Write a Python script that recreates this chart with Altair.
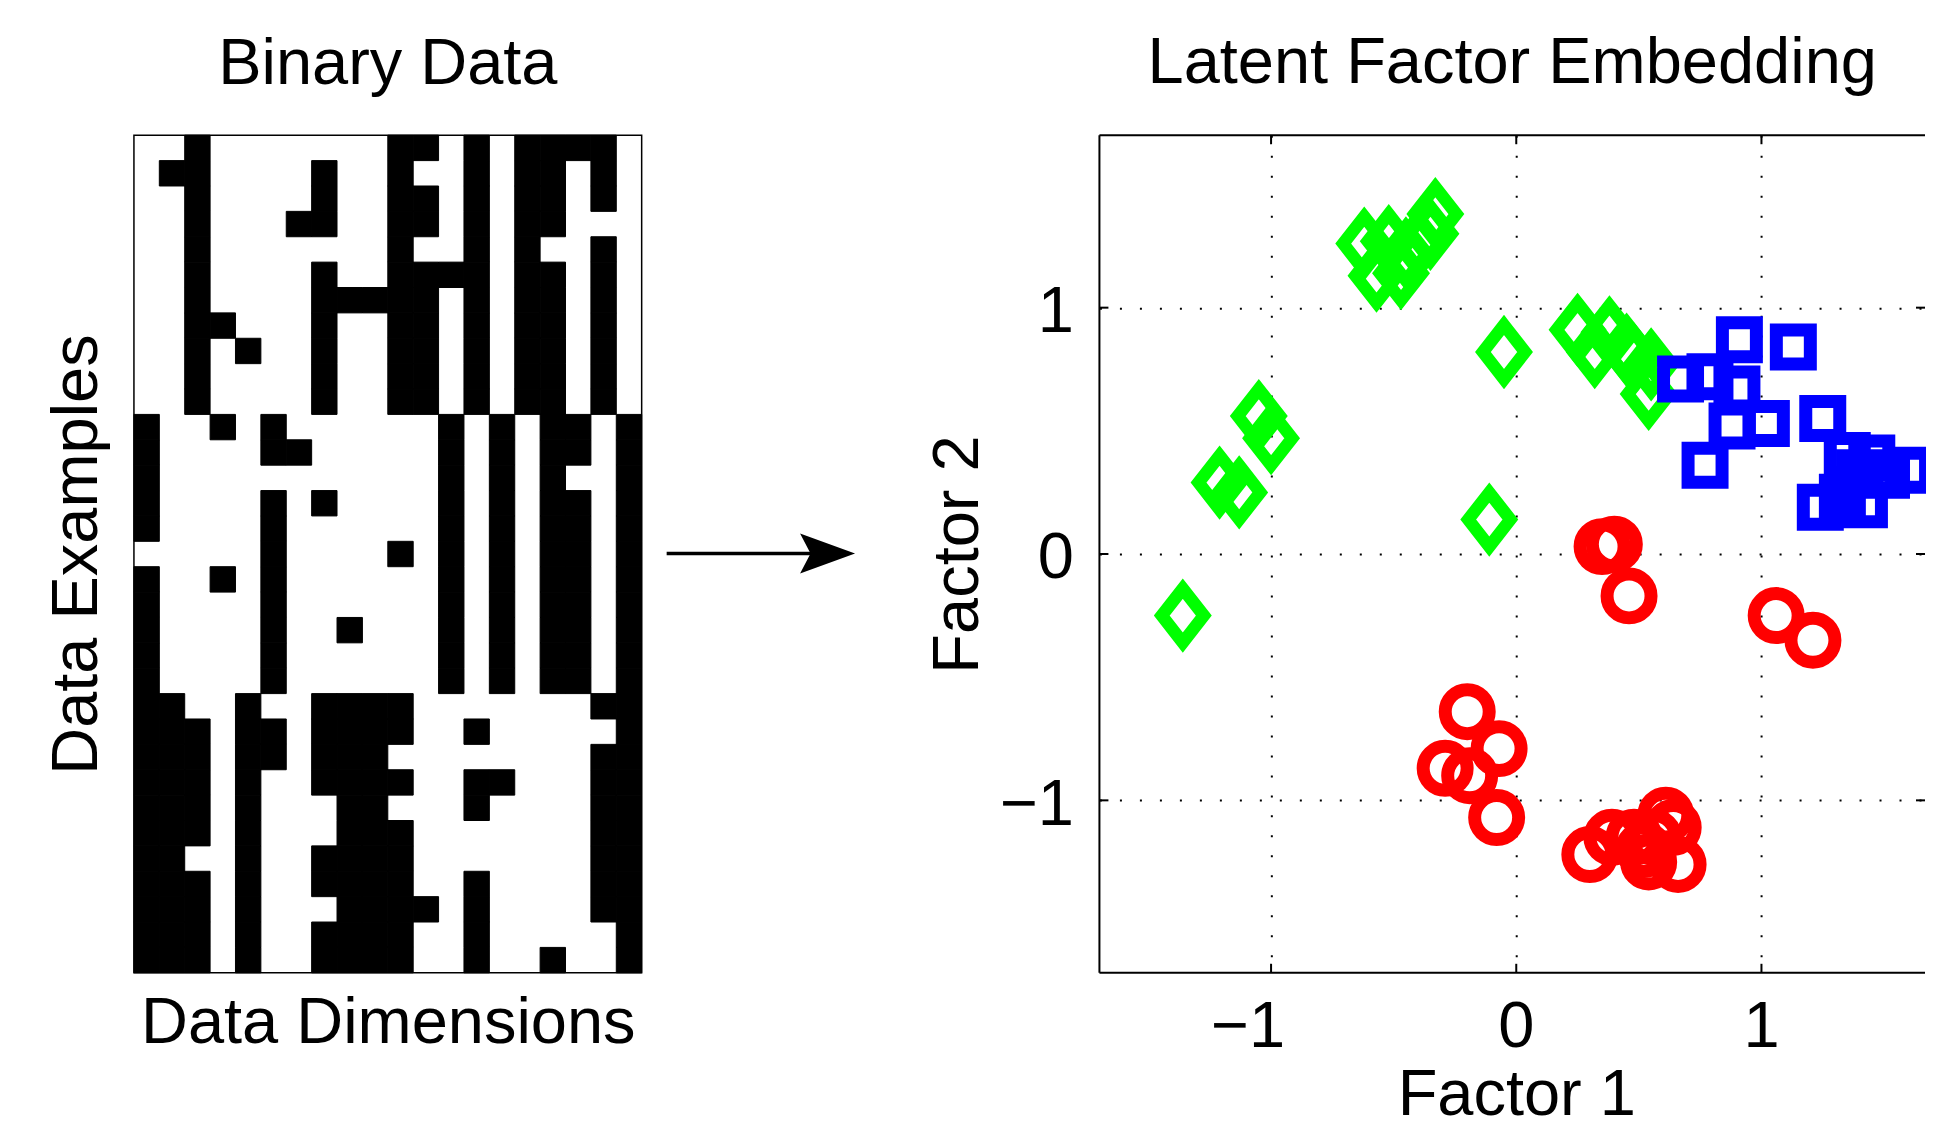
import altair as alt
import pandas as pd

FONT = "Liberation Sans"
FS = 65

# ---------------- Left panel: binary data matrix (33 examples x 20 dimensions)
N_ROWS = 33
N_COLS = 20
# black cells (column indexes) for each data example, top to bottom
black_cols = [
    [2, 10, 11, 13, 15, 16, 17, 18],
    [1, 2, 7, 10, 13, 15, 16, 18],
    [2, 7, 10, 11, 13, 15, 16, 18],
    [2, 6, 7, 10, 11, 13, 15, 16],
    [2, 10, 13, 15, 18],
    [2, 7, 10, 11, 12, 13, 15, 16, 18],
    [2, 7, 8, 9, 10, 11, 13, 15, 16, 18],
    [2, 3, 7, 10, 11, 13, 15, 16, 18],
    [2, 4, 7, 10, 11, 13, 15, 16, 18],
    [2, 7, 10, 11, 13, 15, 16, 18],
    [2, 7, 10, 11, 13, 15, 16, 18],
    [0, 3, 5, 12, 14, 16, 17, 19],
    [0, 5, 6, 12, 14, 16, 17, 19],
    [0, 12, 14, 16, 19],
    [0, 5, 7, 12, 14, 16, 17, 19],
    [0, 5, 12, 14, 16, 17, 19],
    [5, 10, 12, 14, 16, 17, 19],
    [0, 3, 5, 12, 14, 16, 17, 19],
    [0, 5, 12, 14, 16, 17, 19],
    [0, 5, 8, 12, 14, 16, 17, 19],
    [0, 5, 12, 14, 16, 17, 19],
    [0, 5, 12, 14, 16, 17, 19],
    [0, 1, 4, 7, 8, 9, 10, 18, 19],
    [0, 1, 2, 4, 5, 7, 8, 9, 10, 13, 19],
    [0, 1, 2, 4, 5, 7, 8, 9, 18, 19],
    [0, 1, 2, 4, 7, 8, 9, 10, 13, 14, 18, 19],
    [0, 1, 2, 4, 8, 9, 13, 18, 19],
    [0, 1, 2, 4, 8, 9, 10, 18, 19],
    [0, 1, 4, 7, 8, 9, 10, 18, 19],
    [0, 1, 2, 4, 7, 8, 9, 10, 13, 18, 19],
    [0, 1, 2, 4, 8, 9, 10, 11, 13, 18, 19],
    [0, 1, 2, 4, 7, 8, 9, 10, 13, 19],
    [0, 1, 2, 4, 7, 8, 9, 10, 13, 16, 19],
]

# ---------------- Right panel: latent factor embedding
green_x = [-0.62, -0.52, -0.33, -0.35, -0.57, -0.47, -0.45, -0.40,
           0.25, 0.38, 0.32, 0.45, 0.48, 0.55, 0.54,
           -0.05, -0.11,
           -1.05, -1.00, -1.21, -1.13,
           -1.36]
green_y = [1.26, 1.27, 1.38, 1.30, 1.13, 1.14, 1.22, 1.26,
           0.91, 0.90, 0.82, 0.83, 0.79, 0.77, 0.65,
           0.82, 0.14,
           0.56, 0.47, 0.29, 0.25,
           -0.25]

red_x = [0.35, 0.40, 0.46, 1.06, 1.21,
         -0.20, -0.07, -0.29, -0.19, -0.08,
         0.30, 0.39, 0.48, 0.54, 0.61, 0.64, 0.66, 0.56, 0.52]
red_y = [0.03, 0.04, -0.17, -0.25, -0.35,
         -0.64, -0.79, -0.87, -0.90, -1.07,
         -1.22, -1.15, -1.15, -1.25, -1.06, -1.11, -1.26, -1.15, -1.20]

blue_x = [0.91, 1.13, 0.67, 0.79, 0.90, 0.88, 1.02, 0.77, 1.25,
          1.24, 1.35, 1.45, 1.60, 1.51, 1.33, 1.42, 1.40]
blue_y = [0.87, 0.84, 0.71, 0.72, 0.67, 0.52, 0.53, 0.36, 0.55,
          0.19, 0.40, 0.39, 0.34, 0.32, 0.23, 0.20, 0.33]

tick_values = [-1, 0, 1]
tick_labels = ["\u22121", "0", "1"]
x_range = [-1.7, 1.667]   # right edge of the axes box falls at the picture edge
y_range = [-1.7, 1.7]

# ---------------- sizes
LW, LH = 508, 838
RW, RH = 826, 838

cells = pd.DataFrame(
    [{"row": r, "col": c, "row2": r + 1, "col2": c + 1}
     for r, cols in enumerate(black_cols) for c in cols]
)

title_axis = dict(titleFont=FONT, titleFontSize=FS, titleFontWeight="normal",
                  titleColor="black", titleBaseline="alphabetic", titleAlign="center")

matrix = alt.Chart(cells).mark_rect(color="black", stroke="black", strokeWidth=1).encode(
    x=alt.X("col:Q", scale=alt.Scale(domain=[0, N_COLS], nice=False, zero=False),
            axis=alt.Axis(title="Data Dimensions", labels=False, ticks=False, tickSize=0,
                          domain=False, grid=False, titleX=LW / 2, titleY=70, **title_axis)),
    x2="col2:Q",
    y=alt.Y("row:Q", scale=alt.Scale(domain=[0, N_ROWS], nice=False, zero=False, reverse=True),
            axis=alt.Axis(title="Data Examples", labels=False, ticks=False, tickSize=0,
                          domain=False, grid=False, titleAngle=270, titleX=-37,
                          titleY=LH / 2, **title_axis)),
    y2="row2:Q",
)

one = pd.DataFrame({"a": [0]})
arrow_shaft = alt.Chart(one).mark_rule(color="black", strokeWidth=3.5).encode(
    x=alt.value(533), x2=alt.value(680), y=alt.value(418.5)
)
arrow_head = alt.Chart(one).mark_point(
    shape="M1,0L-1,-0.73L-0.62,0L-1,0.73Z", filled=True, color="black",
    size=3025, opacity=1, strokeWidth=0
).encode(x=alt.value(694), y=alt.value(418.5))

TITLE_OFFSET = -14

left = alt.layer(matrix, arrow_shaft, arrow_head).properties(
    width=LW, height=LH,
    title=alt.TitleParams("Binary Data", font=FONT, fontSize=FS, fontWeight="normal",
                          color="black", baseline="alphabetic", offset=TITLE_OFFSET,
                          anchor="middle", frame="group"),
    view=alt.ViewBackground(stroke="black", strokeWidth=1.5),
)

# ---------------- right panel
sx = alt.Scale(domain=x_range, nice=False, zero=False)
sy = alt.Scale(domain=y_range, nice=False, zero=False)

grid_common = dict(values=tick_values, grid=True, gridDash=[2, 18], gridColor="black",
                   gridWidth=2, gridOpacity=1, ticks=False, tickSize=0, domain=False,
                   labelFont=FONT, labelFontSize=FS, labelColor="black",
                   labelFlush=False, labelOverlap=False)

x_title_pos = (0 - x_range[0]) / (x_range[1] - x_range[0]) * RW  # under x = 0
x_axis = alt.Axis(title="Factor 1", labels=False, titleX=x_title_pos, titleY=142,
                  **grid_common, **title_axis)
y_axis = alt.Axis(title="Factor 2", labelPadding=26, labelBaseline="alphabetic",
                  labelOffset=24, titleAngle=270, titleX=-122, titleY=RH / 2,
                  **grid_common, **title_axis)

DIAMOND = "M0,-1L0.78,0L0,1L-0.78,0Z"

pts = pd.concat([
    pd.DataFrame({"x": green_x, "y": green_y, "g": "green"}),
    pd.DataFrame({"x": red_x, "y": red_y, "g": "red"}),
    pd.DataFrame({"x": blue_x, "y": blue_y, "g": "blue"}),
], ignore_index=True)


def scatter(group, shape, size, color, sw):
    return alt.Chart(pts).transform_filter(alt.datum.g == group).mark_point(
        shape=shape, size=size, color=color, filled=False, opacity=1,
        strokeWidth=sw, strokeJoin="miter"
    ).encode(
        x=alt.X("x:Q", scale=sx, axis=x_axis),
        y=alt.Y("y:Q", scale=sy, axis=y_axis),
    )


green = scatter("green", DIAMOND, 2916, "#00ff00", 12.5)
red = scatter("red", "circle", 1936, "#ff0000", 13)
blue = scatter("blue", "square", 1156, "#0000ff", 13)

tdf = pd.DataFrame({"x": tick_values, "y": tick_values, "lab": tick_labels})
TL = 9
tick_bottom = alt.Chart(tdf).mark_rule(color="black", strokeWidth=2).encode(
    x=alt.X("x:Q", scale=sx, axis=x_axis), y=alt.value(RH), y2=alt.value(RH - TL))
tick_top = alt.Chart(tdf).mark_rule(color="black", strokeWidth=2).encode(
    x=alt.X("x:Q", scale=sx, axis=x_axis), y=alt.value(0), y2=alt.value(TL))
tick_left = alt.Chart(tdf).mark_rule(color="black", strokeWidth=2).encode(
    y=alt.Y("y:Q", scale=sy, axis=y_axis), x=alt.value(0), x2=alt.value(TL))
tick_right = alt.Chart(tdf).mark_rule(color="black", strokeWidth=2).encode(
    y=alt.Y("y:Q", scale=sy, axis=y_axis), x=alt.value(RW), x2=alt.value(RW - TL))

# x tick labels (the negative label is set off to the left, as in the original)
xlab_neg = alt.Chart(tdf).transform_filter(alt.datum.x < 0).mark_text(
    font=FONT, fontSize=FS, color="black", baseline="alphabetic", align="center", dx=-23
).encode(x=alt.X("x:Q", scale=sx, axis=x_axis), y=alt.value(RH + 74), text="lab:N")
xlab_pos = alt.Chart(tdf).transform_filter(alt.datum.x >= 0).mark_text(
    font=FONT, fontSize=FS, color="black", baseline="alphabetic", align="center"
).encode(x=alt.X("x:Q", scale=sx, axis=x_axis), y=alt.value(RH + 74), text="lab:N")

frame_top = alt.Chart(one).mark_rule(color="black", strokeWidth=2).encode(
    x=alt.value(0), x2=alt.value(RW), y=alt.value(0))
frame_bottom = alt.Chart(one).mark_rule(color="black", strokeWidth=2).encode(
    x=alt.value(0), x2=alt.value(RW), y=alt.value(RH))
frame_left = alt.Chart(one).mark_rule(color="black", strokeWidth=2).encode(
    x=alt.value(0), y=alt.value(0), y2=alt.value(RH))

right = alt.layer(green, red, blue, tick_bottom, tick_top, tick_left, tick_right,
                  xlab_neg, xlab_pos, frame_top, frame_bottom, frame_left).properties(
    width=RW, height=RH,
    title=alt.TitleParams("Latent Factor Embedding", font=FONT, fontSize=FS,
                          fontWeight="normal", color="black", baseline="alphabetic",
                          offset=TITLE_OFFSET, anchor="middle", frame="group"),
    view=alt.ViewBackground(strokeWidth=0),
)

# right padding is negative: the marker outline bounds reach past the page edge,
# and the svg must not be wider than the page (else it is shrunk)
chart = alt.hconcat(left, right, spacing=458, bounds="flush").properties(
    padding={"left": 36, "top": 22, "right": -26, "bottom": 0},
    background="white",
)

chart.save("out.html", embed_options={"renderer": "svg", "actions": False})
